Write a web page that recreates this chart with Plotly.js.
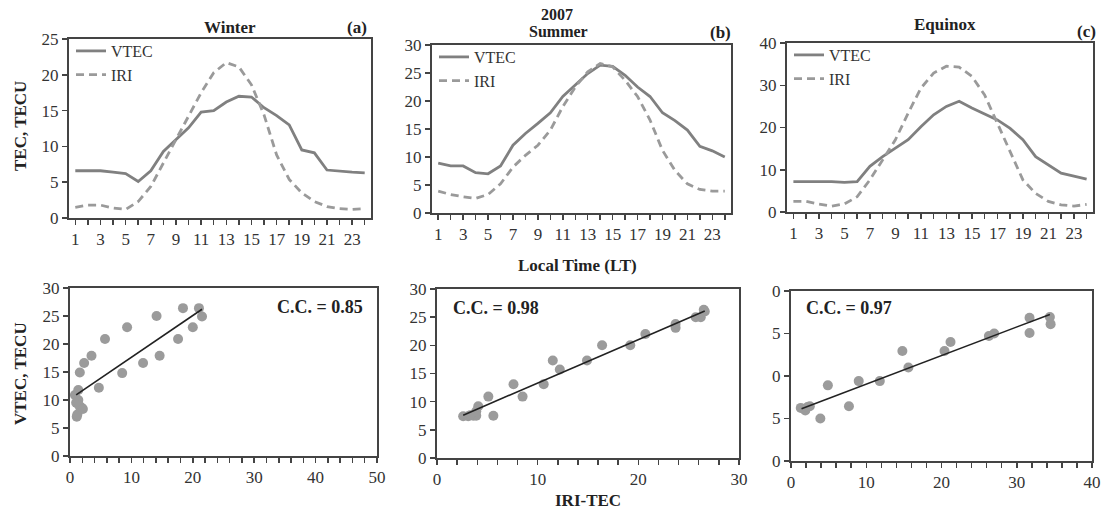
<!DOCTYPE html>
<html>
<head>
<meta charset="utf-8">
<script src="https://cdn.plot.ly/plotly-3.0.1.min.js"></script>
<style>html,body{margin:0;padding:0;background:#fff;}#chart{width:1104px;height:511px;}</style>
</head>
<body>
<div id="chart"></div>
<script>
// ---------- DATA ----------
const hours = [1,2,3,4,5,6,7,8,9,10,11,12,13,14,15,16,17,18,19,20,21,22,23,24];
const hourLabels = ['1','','3','','5','','7','','9','','11','','13','','15','','17','','19','','21','','23',''];

const winterVTEC = [6.6,6.6,6.6,6.4,6.2,5.1,6.6,9.3,10.9,12.6,14.8,15.0,16.2,17.0,16.9,15.4,14.3,13.0,9.5,9.1,6.7,6.5,6.4,6.3];
const winterIRI  = [1.5,1.8,1.8,1.4,1.2,2.3,4.4,7.7,10.9,14.2,17.5,20.3,21.7,21.1,18.6,14.4,8.8,5.4,3.5,2.3,1.6,1.3,1.2,1.3];

const summerVTEC = [8.9,8.4,8.4,7.2,7.0,8.4,12.1,14.2,16.0,17.9,20.8,22.8,24.9,26.4,26.2,24.6,22.5,20.8,17.9,16.5,14.8,11.9,11.1,10.0];
const summerIRI  = [3.9,3.3,2.9,2.6,3.3,5.2,8.2,10.3,12.1,14.8,19.0,22.5,25.2,26.7,26.1,23.7,20.8,16.6,11.2,7.6,5.2,4.2,3.9,3.9];

const equinoxVTEC = [7.2,7.2,7.2,7.2,7.0,7.2,10.8,13.1,15.1,17.1,20.2,23.0,25.0,26.2,24.6,23.2,21.8,19.8,17.1,13.1,11.1,9.2,8.5,7.8];
const equinoxIRI  = [2.5,2.5,1.9,1.4,1.9,3.6,7.6,12.3,17.1,23.4,29.3,32.9,34.5,34.3,32.1,27.7,21.0,13.9,7.6,4.4,2.5,1.7,1.4,1.8];

// scatter panels (IRI-TEC vs VTEC)
const scatA_x = [1.35,0.8,1.35,1.9,1.1,1.6,2.3,3.5,4.7,5.7,8.5,9.3,11.9,14.1,14.6,17.6,18.4,20.0,21.0,21.5,1.0,1.5,1.2,2.1];
const scatA_y = [11.8,10.9,10.0,8.6,7.0,14.9,16.6,17.9,12.2,20.9,14.8,23.0,16.6,25.0,17.9,20.9,26.4,23.0,26.4,24.9,9.5,9.0,7.4,8.4];
const trendA_x = [1.0,21.5];
const trendA_y = [10.9,26.2];

const scatB_x = [2.6,3.1,3.6,3.9,4.1,3.9,3.3,5.1,5.6,7.6,8.5,10.6,11.5,12.2,14.9,16.4,19.2,20.7,23.7,23.7,25.7,26.2,26.5,26.6];
const scatB_y = [7.4,7.4,7.5,7.5,9.2,8.3,7.6,10.9,7.5,13.1,10.9,13.1,17.3,15.7,17.3,20.0,20.0,22.0,23.1,23.8,25.0,25.0,26.3,26.0];
const trendB_x = [2.6,26.6];
const trendB_y = [7.6,26.1];

const scatC_x = [1.3,1.9,2.5,2.2,3.9,4.9,7.7,9.0,11.8,14.8,15.6,20.4,21.2,26.3,27.0,31.7,31.7,34.4,34.5];
const scatC_y = [12.5,11.9,12.9,12.7,10.0,17.8,12.9,18.8,18.8,25.9,22.0,25.9,28.0,29.4,30.0,33.7,30.1,33.9,32.2];
const trendC_x = [1.4,34.4];
const trendC_y = [12.3,34.5];
const scatC_ticks = [0,10,20,30,40];
const scatC_tickText = ['0','5','0','5','0'];

// ---------- STYLE ----------
const W = 1104, H = 511;
const FONT = 'Liberation Serif, Times New Roman, serif';
const AX = '#444';
const VCOL = '#808080', ICOL = '#9a9a9a', MCOL = '#9b9b9b';
function dx(a,b){return [a/W, b/W];}
function dy(top,bot){return [1-bot/H, 1-top/H];}

function baseAxis(extra){
  return Object.assign({
    showline:true, mirror:true, linecolor:AX, linewidth:2,
    ticks:'outside', ticklen:5, tickwidth:1.5, tickcolor:AX,
    showgrid:false, zeroline:false, fixedrange:true,
    tickfont:{family:FONT, size:17, color:'#333'}
  }, extra);
}
function hourAxis(domain, anchor){
  return baseAxis({domain:domain, anchor:anchor, range:[0.5,24.5], tickmode:'array', tickvals:hours, ticktext:hourLabels});
}

const traces = [];
function lineTraces(vtec, iri, xa, ya, leg){
  traces.push({x:hours, y:vtec, xaxis:xa, yaxis:ya, type:'scatter', mode:'lines', name:'VTEC',
    line:{color:VCOL, width:2.8}, legend:leg});
  traces.push({x:hours, y:iri, xaxis:xa, yaxis:ya, type:'scatter', mode:'lines', name:'IRI',
    line:{color:ICOL, width:2.8, dash:'8px,5px'}, legend:leg});
}
lineTraces(winterVTEC, winterIRI, 'x', 'y', 'legend');
lineTraces(summerVTEC, summerIRI, 'x2', 'y2', 'legend2');
lineTraces(equinoxVTEC, equinoxIRI, 'x3', 'y3', 'legend3');

function scatterTraces(sx, sy, tx, ty, xa, ya){
  traces.push({x:sx, y:sy, xaxis:xa, yaxis:ya, type:'scatter', mode:'markers', showlegend:false,
    marker:{color:MCOL, size:10}});
  traces.push({x:tx, y:ty, xaxis:xa, yaxis:ya, type:'scatter', mode:'lines', showlegend:false,
    line:{color:'#222', width:1.6}});
}
scatterTraces(scatA_x, scatA_y, trendA_x, trendA_y, 'x4', 'y4');
scatterTraces(scatB_x, scatB_y, trendB_x, trendB_y, 'x5', 'y5');
scatterTraces(scatC_x, scatC_y, trendC_x, trendC_y, 'x6', 'y6');

function legendAt(px, py){
  return {x:px/W, y:1-py/H, xanchor:'left', yanchor:'top', bgcolor:'rgba(0,0,0,0)',
    font:{family:FONT, size:16, color:'#333'}, tracegroupgap:0, itemwidth:30};
}
function ann(text, px, py, size, bold, extra){
  return Object.assign({text: bold ? '<b>'+text+'</b>' : text, x:px/W, y:1-py/H, xref:'paper', yref:'paper',
    showarrow:false, xanchor:'center', yanchor:'middle', font:{family:FONT, size:size, color:'#222'}}, extra||{});
}

const layout = {
  width:W, height:H, margin:{l:0,r:0,t:0,b:0}, paper_bgcolor:'#fff', plot_bgcolor:'#fff',
  showlegend:true,
  legend: legendAt(71, 34),
  legend2: legendAt(434, 40),
  legend3: legendAt(789, 38),
  xaxis:  hourAxis(dx(69,371), 'y'),
  yaxis:  baseAxis({domain:dy(39,218), anchor:'x', range:[0,25], dtick:5}),
  xaxis2: hourAxis(dx(432,731), 'y2'),
  yaxis2: baseAxis({domain:dy(45,213), anchor:'x2', range:[0,30], dtick:5}),
  xaxis3: hourAxis(dx(787,1093), 'y3'),
  yaxis3: baseAxis({domain:dy(43,212), anchor:'x3', range:[0,40], dtick:10}),
  xaxis4: baseAxis({domain:dx(70,377), anchor:'y4', range:[0,50], dtick:10, minor:{dtick:2, ticks:'outside', ticklen:5, tickcolor:AX}}),
  yaxis4: baseAxis({domain:dy(288,456), anchor:'x4', range:[0,30], dtick:5}),
  xaxis5: baseAxis({domain:dx(437,739), anchor:'y5', range:[0,30], dtick:10, minor:{dtick:2, ticks:'outside', ticklen:5, tickcolor:AX}}),
  yaxis5: baseAxis({domain:dy(289,458), anchor:'x5', range:[0,30], dtick:5}),
  xaxis6: baseAxis({domain:dx(791,1092), anchor:'y6', range:[0,40], dtick:10, minor:{dtick:2, ticks:'outside', ticklen:5, tickcolor:AX}}),
  yaxis6: baseAxis({domain:dy(291,461), anchor:'x6', range:[0,40], tickmode:'array', tickvals:scatC_ticks, ticktext:scatC_tickText}),
  annotations: [
    ann('Winter', 230, 27, 17, true),
    ann('(a)', 357, 27, 17, true),
    ann('2007', 557, 14, 16, true),
    ann('Summer', 558, 31, 16, true),
    ann('(b)', 720, 33, 17, true),
    ann('Equinox', 945, 25, 17, true),
    ann('(c)', 1086, 31, 17, true),
    ann('TEC, TECU', 20, 126, 17, true, {textangle:-90}),
    ann('VTEC, TECU', 20, 374, 17, true, {textangle:-90}),
    ann('Local Time (LT)', 577, 265, 17, true),
    ann('IRI-TEC', 588, 500, 17, true),
    ann('C.C. = 0.85', 320, 307, 18, true),
    ann('C.C. = 0.98', 496, 308, 18, true),
    ann('C.C. = 0.97', 849, 308, 18, true)
  ]
};

Plotly.newPlot('chart', traces, layout, {staticPlot:true, displayModeBar:false});
</script>
</body>
</html>
